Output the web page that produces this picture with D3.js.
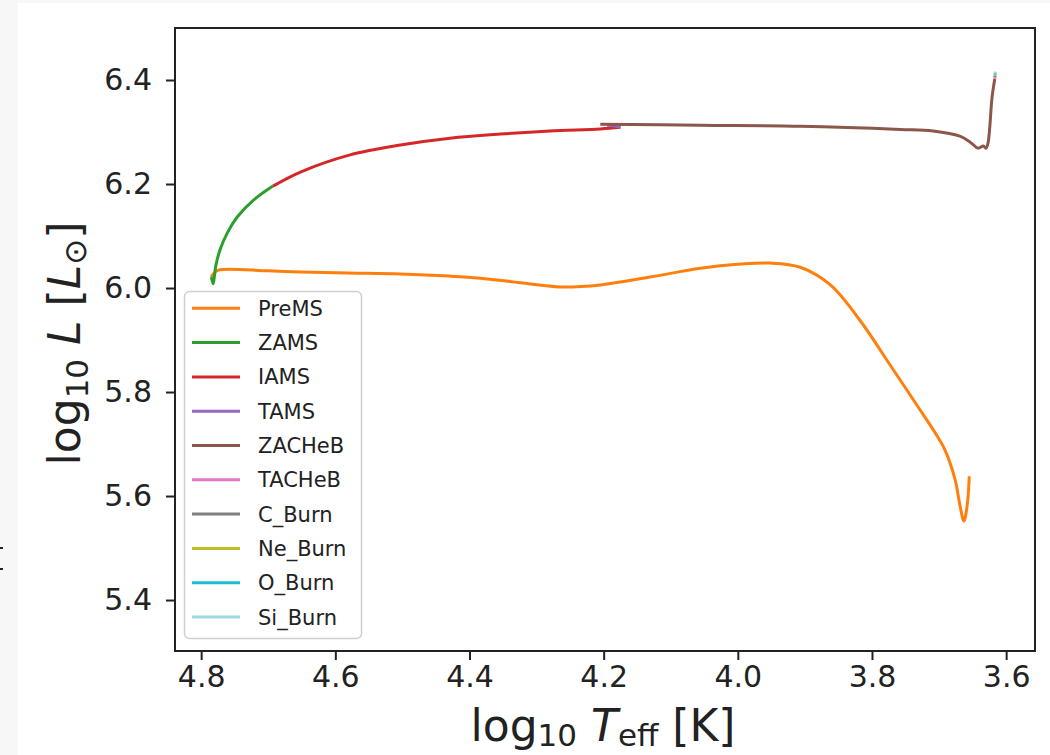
<!DOCTYPE html>
<html><head><meta charset="utf-8">
<script src="https://cdn.jsdelivr.net/npm/d3@7"></script>
<style>body{margin:0;background:#fff;} svg{display:block;}</style>
</head><body>
<script>
// ---- data ----
const phases = ["PreMS","ZAMS","IAMS","TAMS","ZACHeB","TACHeB","C_Burn","Ne_Burn","O_Burn","Si_Burn"];
const phaseColors = ["#ff7f0e","#2ca02c","#d62728","#9467bd","#8c564b","#e377c2","#7f7f7f","#bcbd22","#17becf","#9edae5"];
const xTicks = [4.8,4.6,4.4,4.2,4.0,3.8,3.6];
const yTicks = [5.4,5.6,5.8,6.0,6.2,6.4];

const premsT = [4.785,4.780,4.772,4.700,4.652,4.580,4.503,4.430,4.384,4.324,4.265,4.205,4.131,4.056,3.996,3.952,3.907,3.862,3.818,3.773,3.728,3.705,3.691,3.676,3.669,3.663,3.658,3.655];
const premsL = [6.021,6.030,6.035,6.033,6.031,6.029,6.027,6.023,6.019,6.010,6.002,6.006,6.021,6.038,6.046,6.048,6.040,6.006,5.938,5.852,5.765,5.720,5.688,5.631,5.583,5.552,5.583,5.638];
const zamsT = [4.785,4.783,4.782,4.780,4.778,4.772,4.761,4.746,4.722,4.693];
const zamsL = [6.021,6.012,6.008,6.025,6.044,6.073,6.106,6.137,6.169,6.196];
const iamsT = [4.693,4.652,4.578,4.503,4.429,4.354,4.280,4.205,4.175];
const iamsL = [6.196,6.223,6.256,6.275,6.288,6.296,6.302,6.306,6.309];
const tamsT = [4.175,4.185,4.195];
const tamsL = [6.309,6.312,6.313];
const zacT = [4.205,4.056,3.907,3.758,3.709,3.669,3.654,3.642,3.634,3.630,3.627,3.621,3.617];
const zacL = [6.315,6.313,6.311,6.305,6.302,6.292,6.281,6.269,6.273,6.269,6.279,6.367,6.402];
const tacT = [3.617,3.6168];
const tacL = [6.402,6.405];
const cT = [3.6168,3.6166];
const cL = [6.405,6.408];
const neT = [3.6166,3.6165];
const neL = [6.408,6.410];
const oT = [3.6165,3.6164];
const oL = [6.410,6.413];
const siT = [3.6164,3.6163];
const siL = [6.413,6.416];
const seriesT = [premsT,zamsT,iamsT,tamsT,zacT,tacT,cT,neT,oT,siT];
const seriesL = [premsL,zamsL,iamsL,tamsL,zacL,tacL,cL,neL,oL,siL];

// ---- layout ----
const W = 1050, H = 755;
const mLeft = 175, mRight = 1035, mTop = 28, mBottom = 651;
const svg = d3.select("body").append("svg").attr("width", W).attr("height", H);
svg.append("rect").attr("width", W).attr("height", H).attr("fill", "#fff");
svg.append("rect").attr("x",0).attr("y",0).attr("width",18).attr("height",H).attr("fill","#f7f7f7");
svg.append("rect").attr("x",0).attr("y",0).attr("width",W).attr("height",3).attr("fill","#f7f7f7");
svg.append("rect").attr("x",0).attr("y",547).attr("width",3).attr("height",2).attr("fill","#222");
svg.append("rect").attr("x",0).attr("y",568).attr("width",3).attr("height",2).attr("fill","#222");

const x = d3.scaleLinear().domain([4.839, 3.557]).range([mLeft, mRight]);
const y = d3.scaleLinear().domain([5.302, 6.5]).range([mBottom, mTop]);

const font = "DejaVu Sans";
svg.append("clipPath").attr("id","clip").append("rect").attr("x",mLeft).attr("y",mTop).attr("width",mRight-mLeft).attr("height",mBottom-mTop);

const line = d3.line().x(d => x(d[0])).y(d => y(d[1])).curve(d3.curveCatmullRom.alpha(0.5));
const plot = svg.append("g").attr("clip-path","url(#clip)");
seriesT.forEach((ts, i) => {
  const pts = ts.map((t, j) => [t, seriesL[i][j]]);
  plot.append("path").datum(pts).attr("d", line)
    .attr("fill","none").attr("stroke", phaseColors[i]).attr("stroke-width", 3)
    .attr("stroke-linejoin","round").attr("stroke-linecap","butt");
});

// axes
const xAxis = d3.axisBottom(x).tickValues(xTicks).tickFormat(d3.format(".1f")).tickSize(9).tickPadding(6);
const yAxis = d3.axisLeft(y).tickValues(yTicks).tickFormat(d3.format(".1f")).tickSize(9).tickPadding(14);
const gx = svg.append("g").attr("transform", `translate(0,${mBottom})`).call(xAxis);
const gy = svg.append("g").attr("transform", `translate(${mLeft},0)`).call(yAxis);
[gx, gy].forEach(a => {
  a.select(".domain").remove();
  a.selectAll(".tick line").attr("stroke","#222").attr("stroke-width",2);
  a.selectAll(".tick text").attr("font-family", font).attr("font-size", 30).attr("fill","#222");
});
svg.append("rect").attr("x",mLeft).attr("y",mTop).attr("width",mRight-mLeft).attr("height",mBottom-mTop)
  .attr("fill","none").attr("stroke","#222").attr("stroke-width",2);

// axis labels
const xl = svg.append("text").attr("x", (mLeft+mRight)/2 - 2).attr("y", 741).attr("text-anchor","middle")
  .attr("font-family", font).attr("font-size", 44).attr("fill","#222");
xl.append("tspan").text("log");
xl.append("tspan").attr("font-size", 31).attr("dy", 5).text("10");
xl.append("tspan").attr("dy", -5).text(" ");
xl.append("tspan").attr("font-style","italic").text("T");
xl.append("tspan").attr("font-size", 31).attr("dy", 5).text("eff");
xl.append("tspan").attr("dy", -5).text(" [K]");

const yl = svg.append("text").attr("transform", `translate(80,${(mTop+mBottom)/2 + 4}) rotate(-90)`).attr("text-anchor","middle")
  .attr("font-family", font).attr("font-size", 44).attr("fill","#222");
yl.append("tspan").text("log");
yl.append("tspan").attr("font-size", 31).attr("dy", 8).text("10");
yl.append("tspan").attr("dy", -8).text(" ");
yl.append("tspan").attr("font-style","italic").text("L");
yl.append("tspan").text(" [");
yl.append("tspan").attr("font-style","italic").text("L");
yl.append("tspan").attr("font-size", 31).attr("dy", 6).text("⊙");
yl.append("tspan").attr("dy", -6).text("]");

// legend
const lg = svg.append("g");
lg.append("rect").attr("x",184.5).attr("y",291.5).attr("width",177).attr("height",347).attr("rx",5)
  .attr("fill","#fff").attr("fill-opacity",0.8).attr("stroke","#d0d0d0").attr("stroke-width",1.5);
phases.forEach((p, i) => {
  const yy = 308.3 + i * 34.3;
  lg.append("line").attr("x1",192).attr("x2",240).attr("y1",yy).attr("y2",yy)
    .attr("stroke", phaseColors[i]).attr("stroke-width",3);
  lg.append("text").attr("x",258).attr("y",yy).attr("dy","0.36em")
    .attr("font-family", font).attr("font-size", 21).attr("fill","#222").text(p);
});
</script>
</body></html>
